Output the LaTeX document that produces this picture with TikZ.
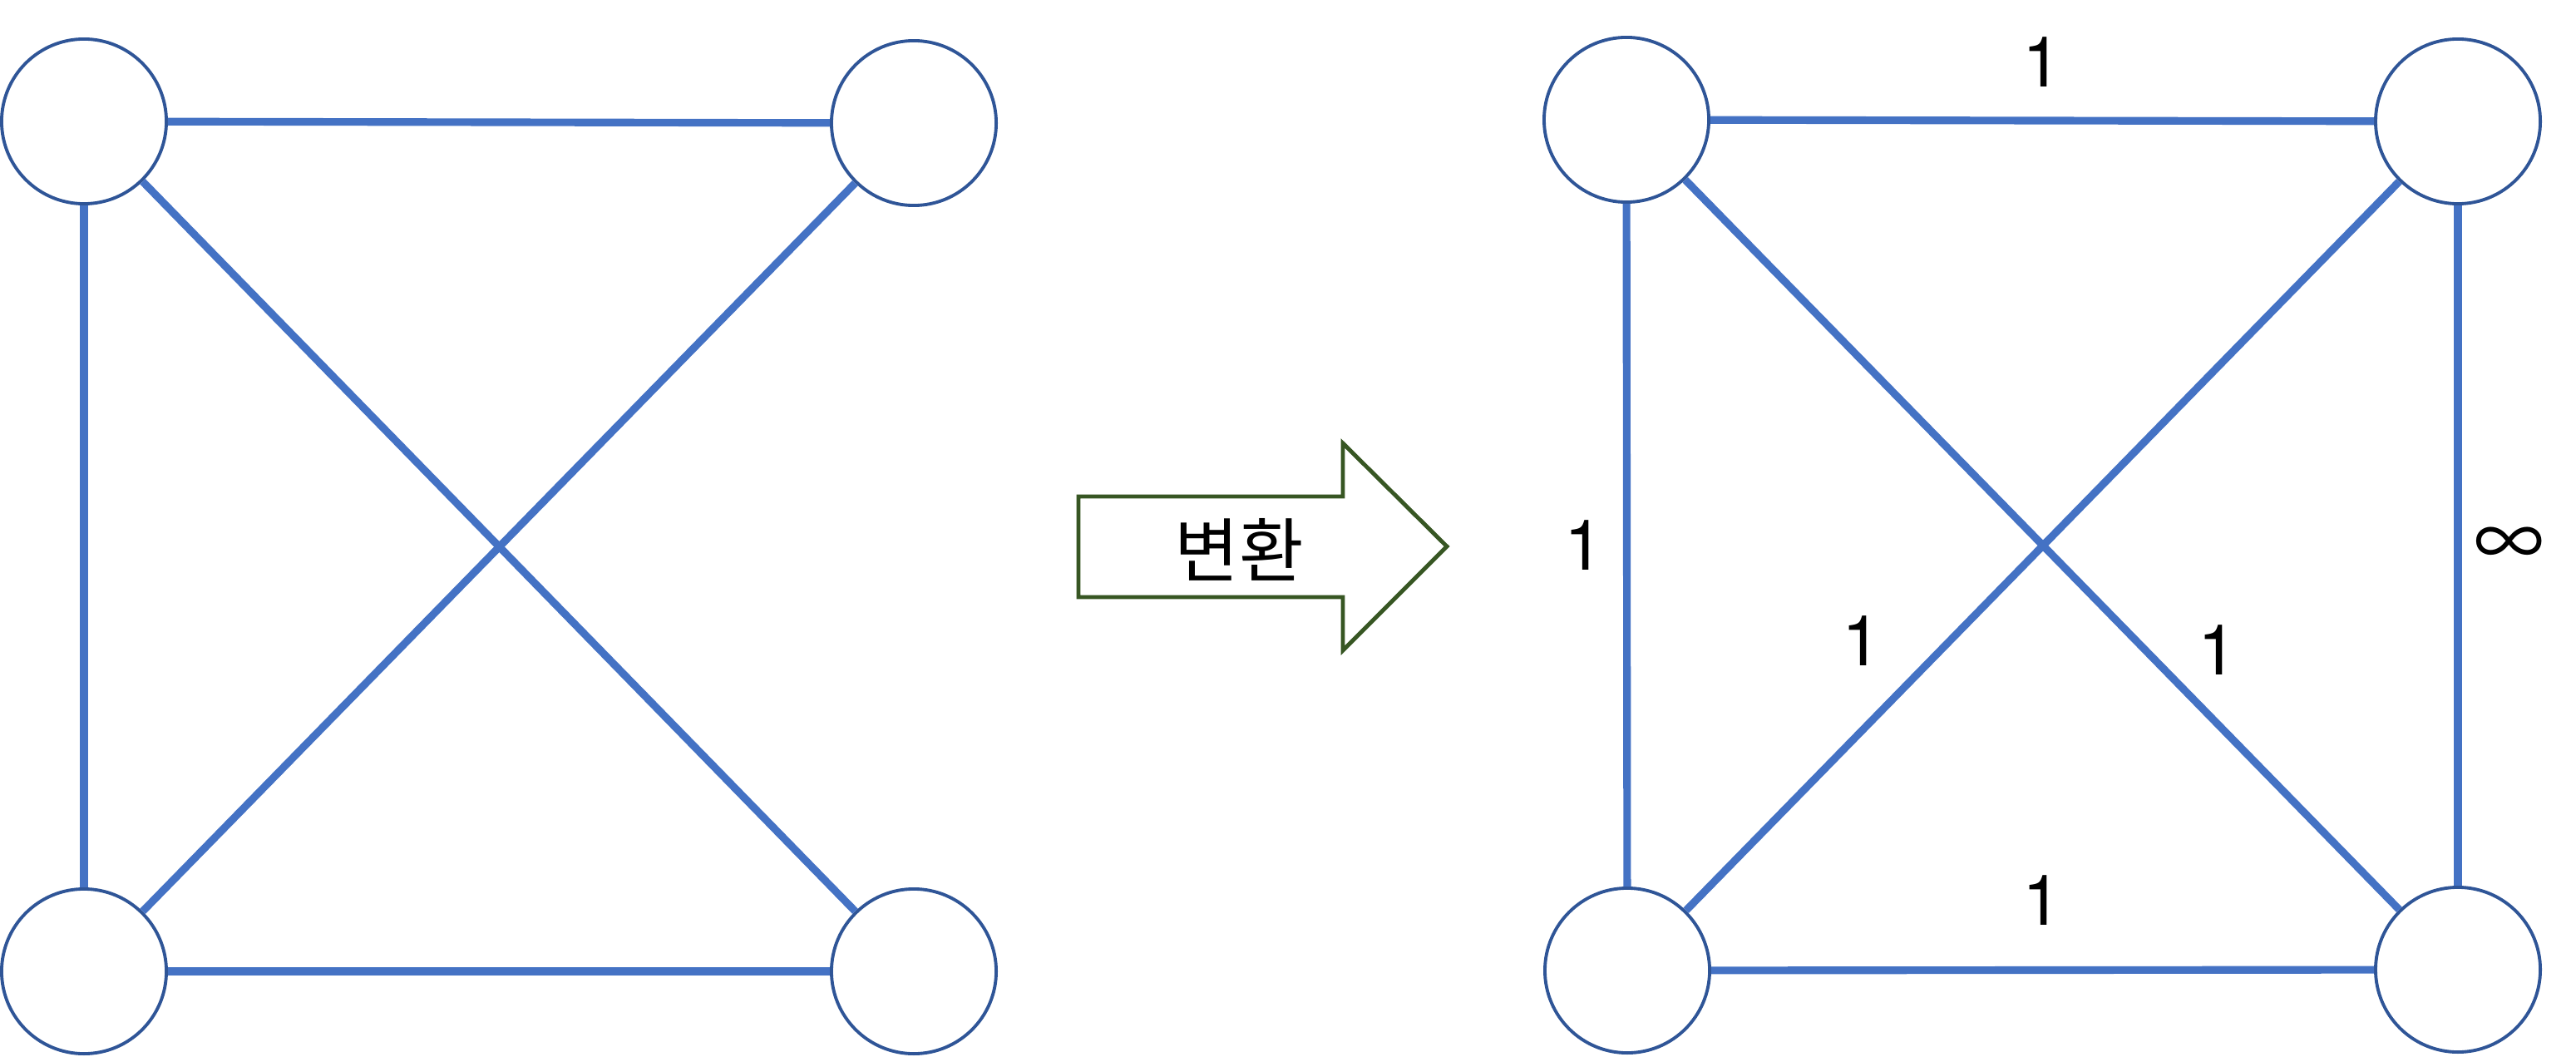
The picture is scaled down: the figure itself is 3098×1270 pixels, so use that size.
\documentclass[tikz,border=0pt]{standalone}
\usepackage{fontspec}
\setmainfont{TeX Gyre Heros}
\newfontfamily\krfont{Noto Sans CJK KR}
\usepackage{tikz}
\usetikzlibrary{positioning}
\definecolor{eline}{HTML}{4472C4}
\definecolor{vline}{HTML}{2F5597}
\definecolor{aline}{HTML}{375623}

\begin{document}
\begin{tikzpicture}[x=0.01cm,y=-0.01cm]
\tikzstyle{V}=[circle,draw=vline,line width=1.1pt,fill=white,minimum size=1.98cm,inner sep=0pt]
\tikzstyle{E}=[draw=eline,line width=2.6pt]
\tikzstyle{W}=[font=\fontsize{24}{28}\selectfont,inner sep=0pt]
\useasboundingbox (0,0) rectangle (3098,1270);
% before
\node[V] (a1) at (101,146) {};
\node[V] (a2) at (1099,148) {};
\node[V] (a3) at (101,1168) {};
\node[V] (a4) at (1099,1168) {};
\draw[E] (a1)--(a2); \draw[E] (a1)--(a3);
\draw[E] (a1)--(a4); \draw[E] (a2)--(a3);
\draw[E] (a3)--(a4);
% conversion arrow
\draw[aline,line width=1.4pt,fill=white] (1297,597)--(1615,597)--(1615,533)--(1740,657)
  --(1615,782)--(1615,718)--(1297,718)--cycle;
\node[W] (conv) at (1490,661) {\krfont 변환};
% after
\node[V] (b1) at (1956,144) {};
\node[V] (b2) at (2956,146) {};
\node[V] (b3) at (1957,1167) {};
\node[V] (b4) at (2956,1166) {};
\draw[E] (b1)--(b2); \draw[E] (b1)--(b3);
\draw[E] (b1)--(b4); \draw[E] (b2)--(b3);
\draw[E] (b3)--(b4); \draw[E] (b2)--(b4);
\node[W] (w12) at (2456,75) {1};
\node[W] (w13) at (1905,656) {1};
\node[W] (w23) at (2239,771) {1};
\node[W] (w14) at (2667,782) {1};
\node[W] (w34) at (2456,1083) {1};
\node[W] (w24) at (3018,658) {\krfont ∞};
\end{tikzpicture}
\end{document}
